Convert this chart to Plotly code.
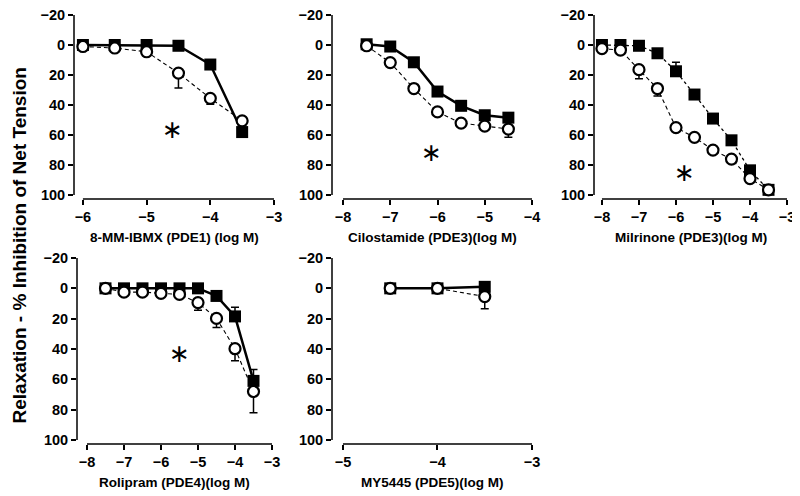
import plotly.graph_objects as go

# ---- data (log M vs % inhibition) ----
ibmx_x = [-6, -5.5, -5, -4.5, -4, -3.5]
ibmx_filled = [0, 0, 0, 0.5, 13, 58]
ibmx_open = [1, 2, 4.5, 18.7, 35.5, 50.5]
ibmx_open_err = [0, 0, 0, 10, 4, 0]

cilo_x = [-7.5, -7, -6.5, -6, -5.5, -5, -4.5]
cilo_filled = [-0.5, 1, 11.5, 31, 40.5, 46.8, 48.4]
cilo_open = [0.5, 11.7, 29, 44.6, 52, 54, 56]
cilo_open_err = [0, 0, 0, 0, 0, 0, 5.5]

milr_x = [-8, -7.5, -7, -6.5, -6, -5.5, -5, -4.5, -4, -3.5]
milr_filled = [0, 0, 0.5, 5.5, 17.5, 33, 49, 63.5, 83.5, 96.5]
milr_filled_err = [0, 0, 0, 0, 6, 0, 0, 0, 0, 0]
milr_open = [2.4, 3.4, 16.4, 29, 55, 61.5, 70, 76, 89, 96.5]
milr_open_err = [0, 0, 6, 5, 0, 0, 0, 0, 0, 0]

roli_x = [-7.5, -7, -6.5, -6, -5.5, -5, -4.5, -4, -3.5]
roli_filled = [0, 0, 0, 0, 0, 0, 5, 18.5, 61]
roli_filled_err = [0, 0, 0, 0, 0, 0, 0, 6, 7.5]
roli_open = [0, 2.5, 2.5, 3.3, 4, 9.4, 19.8, 39.8, 68]
roli_open_err = [0, 0, 0, 0, 0, 5, 6, 8, 14]

my_x = [-4.5, -4, -3.5]
my_filled = [0, 0, -1]
my_open = [0, 0, 5.4]
my_open_err = [0, 0, 8]

titles = [
    "8-MM-IBMX (PDE1) (log M)",
    "Cilostamide (PDE3)(log M)",
    "Milrinone (PDE3)(log M)",
    "Rolipram (PDE4)(log M)",
    "MY5445 (PDE5)(log M)",
]
star_x = [-4.6, -6.12, -5.77, -5.5]
star_y = [55.6, 70.8, 84.6, 42.4]
y_ticks = [-20, 0, 20, 40, 60, 80, 100]

# the page body has an 8px margin, so the figure is 792x488 placed at (8, 8)
W, H, OFF = 792, 488, 8


def fx(px):
    return (px - OFF) / W


def fy(py):
    return 1 - (py - OFF) / H


top_y = [fy(199), fy(15)]
bot_y = [fy(444), fy(258)]
panels = [
    dict(xd=[fx(74), fx(274)], yd=top_y, xr=[-6.14, -3], x0=-6, xt=[-6, -5, -4, -3],
         x=ibmx_x, f=ibmx_filled, fe=None, o=ibmx_open, oe=ibmx_open_err, fdash="solid"),
    dict(xd=[fx(332), fx(532)], yd=top_y, xr=[-8.233, -4], x0=-8, xt=[-8, -7, -6, -5, -4],
         x=cilo_x, f=cilo_filled, fe=None, o=cilo_open, oe=cilo_open_err, fdash="solid"),
    dict(xd=[fx(594), fx(787)], yd=top_y, xr=[-8.215, -3], x0=-8, xt=[-8, -7, -6, -5, -4, -3],
         x=milr_x, f=milr_filled, fe=milr_filled_err, o=milr_open, oe=milr_open_err, fdash="dot"),
    dict(xd=[fx(77), fx(272)], yd=bot_y, xr=[-8.27, -3], x0=-8, xt=[-8, -7, -6, -5, -4, -3],
         x=roli_x, f=roli_filled, fe=roli_filled_err, o=roli_open, oe=roli_open_err, fdash="solid"),
    dict(xd=[fx(332), fx(532)], yd=bot_y, xr=[-5.116, -3], x0=-5, xt=[-5, -4, -3],
         x=my_x, f=my_filled, fe=None, o=my_open, oe=my_open_err, fdash="solid"),
]

FONT = "Liberation Sans, Arial, sans-serif"
fig = go.Figure()
layout = dict(
    width=W, height=H,
    margin=dict(l=0, r=0, t=0, b=0, autoexpand=False),
    paper_bgcolor="white", plot_bgcolor="white",
    showlegend=False,
    font=dict(family=FONT, color="black"),
    shapes=[], annotations=[],
)

for i, p in enumerate(panels):
    n = "" if i == 0 else str(i + 1)
    xa, ya = "x" + n, "y" + n
    zeros = [0] * len(p["x"])

    fe = p["fe"] or zeros
    fig.add_trace(go.Scatter(
        x=p["x"], y=p["f"], xaxis=xa, yaxis=ya, mode="lines+markers",
        line=dict(color="black", width=1.3 if p["fdash"] == "dot" else 2.5, dash=p["fdash"]),
        marker=dict(symbol="square", size=12, color="black"),
        error_y=dict(type="data", symmetric=False, array=zeros, arrayminus=fe,
                     color="black", thickness=1.5, width=4),
        cliponaxis=False,
    ))
    fig.add_trace(go.Scatter(
        x=p["x"], y=p["o"], xaxis=xa, yaxis=ya, mode="lines+markers",
        line=dict(color="black", width=1.1, dash="4px,3px"),
        marker=dict(symbol="circle", size=11, color="white", line=dict(color="black", width=2.2)),
        error_y=dict(type="data", symmetric=False, array=p["oe"], arrayminus=zeros,
                     color="black", thickness=1.5, width=4),
        cliponaxis=False,
    ))

    axis_common = dict(
        automargin=False, ticklabeloverflow="allow",
        ticks="outside", ticklen=5, tickwidth=1.5, tickcolor="black",
        showline=False, showgrid=False, zeroline=False,
        tickfont=dict(size=14.5, family=FONT, weight="bold", color="black"),
    )
    layout["xaxis" + n] = dict(domain=p["xd"], range=p["xr"], anchor=ya,
                               tickvals=p["xt"], **axis_common)
    layout["yaxis" + n] = dict(domain=p["yd"], range=[102.6, -20], anchor=xa,
                               tickvals=y_ticks, **axis_common)
    # offset axis lines (Prism style)
    layout["shapes"].append(dict(type="line", xref=xa, yref=ya + " domain",
                                 x0=p["x0"], x1=p["xr"][1], y0=0, y1=0,
                                 line=dict(color="black", width=1.5)))
    layout["shapes"].append(dict(type="line", xref=xa + " domain", yref=ya,
                                 x0=0, x1=0, y0=-20, y1=100,
                                 line=dict(color="black", width=1.5)))
    # axis title
    layout["annotations"].append(dict(
        text=titles[i], xref="paper", yref="paper",
        x=(p["xd"][0] + p["xd"][1]) / 2, y=p["yd"][0] - 38 / H,
        xanchor="center", yanchor="middle", showarrow=False,
        font=dict(size=13.5, family=FONT, weight="bold", color="black"),
    ))
    if i < len(star_x):
        layout["annotations"].append(dict(
            text="\u2217", xref=xa, yref=ya, x=star_x[i], y=star_y[i],
            xanchor="center", yanchor="middle", yshift=-1, showarrow=False,
            font=dict(size=25, family="DejaVu Sans", color="black"),
        ))

layout["annotations"].append(dict(
    text="Relaxation - % Inhibition of Net Tension", xref="paper", yref="paper",
    x=fx(19.5), y=fy(246), textangle=-90, xanchor="center", yanchor="middle",
    showarrow=False, font=dict(size=19, family=FONT, weight="bold", color="black"),
))

fig.update_layout(**layout)
fig.write_html("out.html")
